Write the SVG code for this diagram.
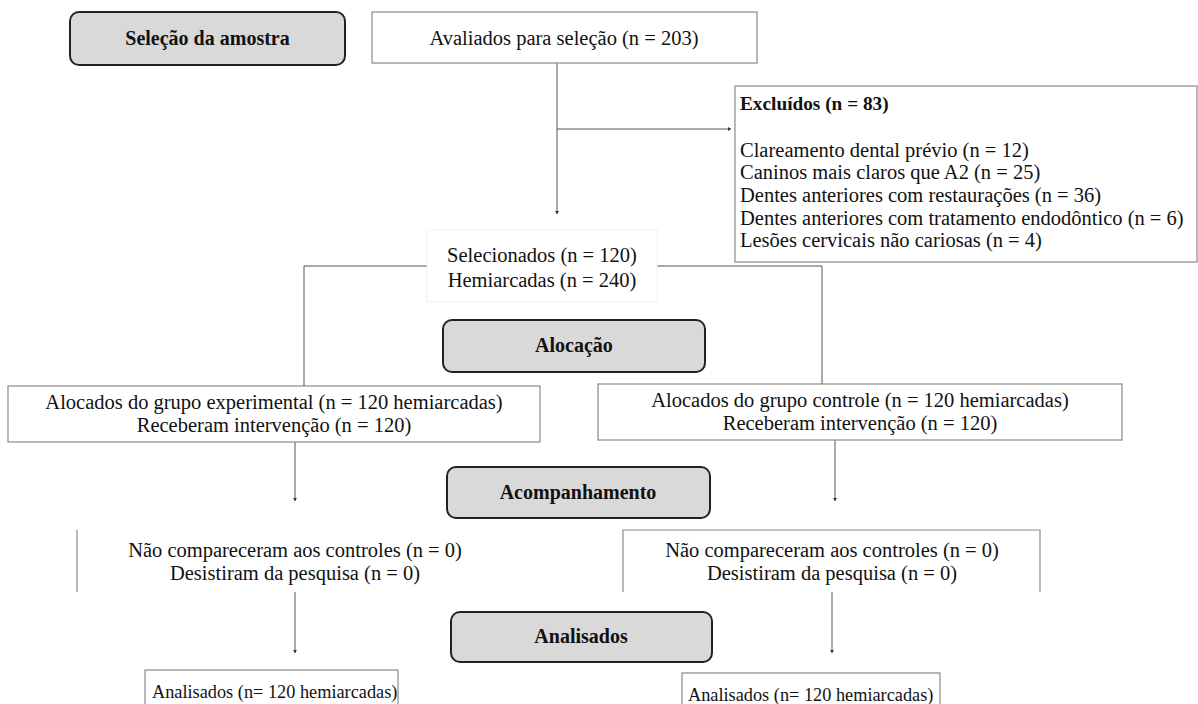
<svg xmlns="http://www.w3.org/2000/svg" width="1198" height="704" viewBox="0 0 1198 704">
  <style>
    .t { font-family: 'Liberation Serif', 'Times New Roman', serif; font-size: 20.5px; fill: #111; }
    .c { text-anchor: middle; }
    .b { font-weight: bold; font-size: 20px; }
    .s { font-size: 18.3px; }
    .stage { fill: #d9d9d9; stroke: #222; stroke-width: 2; }
    .box { fill: #fff; stroke: #8a8a8a; stroke-width: 1.2; }
    .faint { fill: #fff; stroke: #f0f0f0; stroke-width: 1; }
    .conn { fill: none; stroke: #555; stroke-width: 1; }
  </style>
  <defs>
    <marker id="arr" markerWidth="4" markerHeight="4" refX="3" refY="2" orient="auto" markerUnits="userSpaceOnUse">
      <path d="M0,0 L3,2 L0,4 Z" fill="#333"/>
    </marker>
  </defs>
  <rect width="1198" height="704" fill="#fff"/>

  <g id="connectors">
    <line class="conn" x1="557" y1="63" x2="557" y2="214" marker-end="url(#arr)"/>
    <line class="conn" x1="557" y1="129" x2="731" y2="129" marker-end="url(#arr)"/>
    <polyline class="conn" points="427,266 304,266 304,386"/>
    <polyline class="conn" points="657,266 822,266 822,384"/>
    <line class="conn" x1="295" y1="442" x2="295" y2="501" marker-end="url(#arr)"/>
    <line class="conn" x1="835" y1="440" x2="835" y2="501" marker-end="url(#arr)"/>
    <line class="conn" x1="295" y1="592" x2="295" y2="653" marker-end="url(#arr)"/>
    <line class="conn" x1="832" y1="592" x2="832" y2="653" marker-end="url(#arr)"/>
  </g>

  <g id="selecao">
    <rect class="stage" x="70" y="12" width="275" height="53" rx="9"/>
    <text class="t c b" x="207.5" y="45">Seleção da amostra</text>
  </g>

  <g id="avaliados">
    <rect class="box" x="372" y="12" width="385" height="51"/>
    <text class="t c" x="564" y="45">Avaliados para seleção (n = 203)</text>
  </g>

  <g id="excluidos">
    <rect class="box" x="735" y="86" width="462" height="176"/>
    <text class="t b" x="740" y="110" style="font-size:19.3px">Excluídos (n = 83)</text>
    <text class="t" x="740" y="157">Clareamento dental prévio (n = 12)</text>
    <text class="t" x="740" y="179">Caninos mais claros que A2 (n = 25)</text>
    <text class="t" x="740" y="202">Dentes anteriores com restaurações (n = 36)</text>
    <text class="t" x="740" y="225">Dentes anteriores com tratamento endodôntico (n = 6)</text>
    <text class="t" x="740" y="247">Lesões cervicais não cariosas (n = 4)</text>
  </g>

  <g id="selecionados">
    <rect class="faint" x="427" y="230" width="230" height="72"/>
    <text class="t c" x="542" y="262">Selecionados (n = 120)</text>
    <text class="t c" x="542" y="287">Hemiarcadas (n = 240)</text>
  </g>

  <g id="alocacao">
    <rect class="stage" x="443" y="320" width="262" height="52" rx="9"/>
    <text class="t c b" x="574" y="352">Alocação</text>
  </g>

  <g id="alocados-experimental">
    <rect class="box" x="8" y="386" width="532" height="56"/>
    <text class="t c" x="274" y="409">Alocados do grupo experimental (n = 120 hemiarcadas)</text>
    <text class="t c" x="274" y="432">Receberam intervenção (n = 120)</text>
  </g>

  <g id="alocados-controle">
    <rect class="box" x="598" y="384" width="524" height="56"/>
    <text class="t c" x="860" y="407">Alocados do grupo controle (n = 120 hemiarcadas)</text>
    <text class="t c" x="860" y="430">Receberam intervenção (n = 120)</text>
  </g>

  <g id="acompanhamento">
    <rect class="stage" x="447" y="467" width="263" height="51" rx="9"/>
    <text class="t c b" x="578" y="499">Acompanhamento</text>
  </g>

  <g id="seguimento-experimental">
    <line class="box" x1="77" y1="530" x2="77" y2="592"/>
    <text class="t c" x="295" y="557">Não compareceram aos controles (n = 0)</text>
    <text class="t c" x="295" y="580">Desistiram da pesquisa (n = 0)</text>
  </g>

  <g id="seguimento-controle">
    <path class="box" d="M623,592 V530 H1040 V592" fill="none"/>
    <text class="t c" x="832" y="557">Não compareceram aos controles (n = 0)</text>
    <text class="t c" x="832" y="580">Desistiram da pesquisa (n = 0)</text>
  </g>

  <g id="analisados">
    <rect class="stage" x="451" y="612" width="261" height="50" rx="9"/>
    <text class="t c b" x="581" y="643">Analisados</text>
  </g>

  <g id="analisados-experimental">
    <rect class="box" x="145" y="670" width="253" height="44"/>
    <text class="t s" x="152" y="698">Analisados (n= 120 hemiarcadas)</text>
  </g>

  <g id="analisados-controle">
    <rect class="box" x="682" y="673" width="258" height="44"/>
    <text class="t s" x="688" y="701">Analisados (n= 120 hemiarcadas)</text>
  </g>
</svg>
